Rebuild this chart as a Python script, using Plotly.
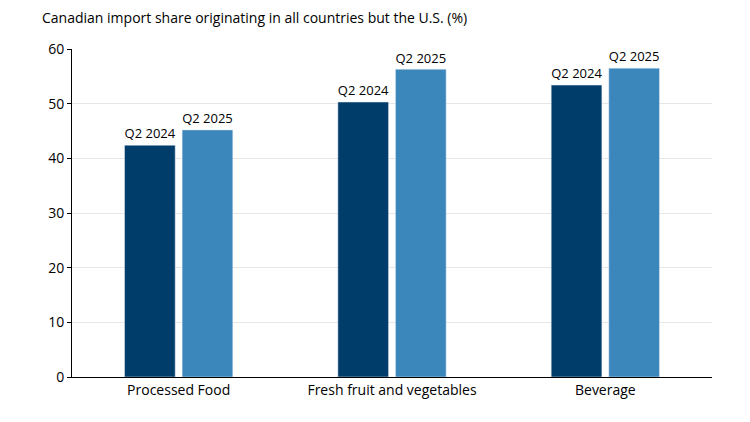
import plotly.graph_objects as go

categories = ["Processed Food", "Fresh fruit and vegetables", "Beverage"]
q2_2024 = [42.4, 50.3, 53.4]
q2_2025 = [45.2, 56.3, 56.5]
y_ticks = [0, 10, 20, 30, 40, 50, 60]

fig = go.Figure()
fig.add_trace(go.Bar(x=categories, y=q2_2024, name="Q2 2024", marker_color="#003d6b",
                     text=["Q2 2024"] * 3, textposition="outside", cliponaxis=False))
fig.add_trace(go.Bar(x=categories, y=q2_2025, name="Q2 2025", marker_color="#3b86bb",
                     text=["Q2 2025"] * 3, textposition="outside", cliponaxis=False))

fig.update_traces(textfont=dict(size=14, color="black"))
fig.update_layout(
    width=750, height=422,
    margin=dict(l=64, r=46, t=41, b=53),
    plot_bgcolor="white", paper_bgcolor="white",
    font=dict(family="Open Sans, Liberation Sans, sans-serif", size=14, color="black"),
    showlegend=False,
    barmode="group", bargap=0.46, bargroupgap=0.12,
    annotations=[dict(text="Canadian import share originating in all countries but the U.S. (%)",
                      xref="paper", yref="paper", x=-0.05, y=1.06, xanchor="left", yanchor="bottom",
                      showarrow=False, font=dict(size=14))],
)
fig.update_xaxes(showline=True, linecolor="black", linewidth=1, ticks="")
fig.update_yaxes(range=[0, 60], tickvals=y_ticks, showgrid=True, gridcolor="#e6e6e6",
                 showline=True, linecolor="black", linewidth=1, ticks="outside",
                 ticklen=4, tickcolor="black", zeroline=False)

fig.write_html("out.html")
